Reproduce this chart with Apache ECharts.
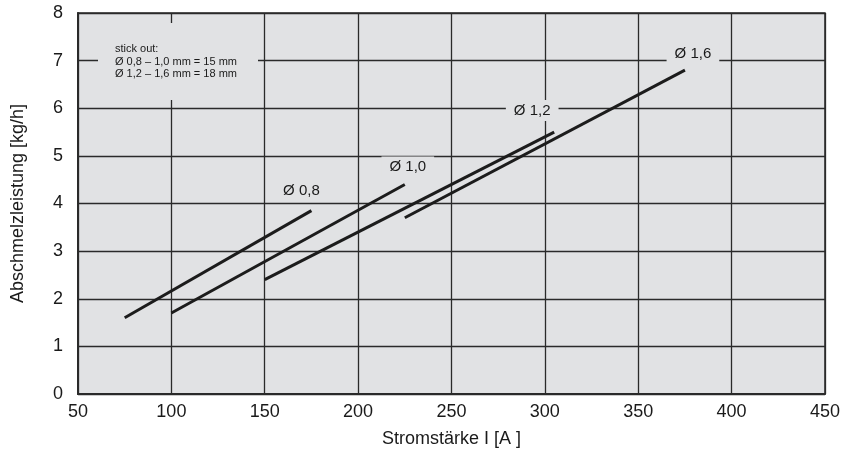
<!DOCTYPE html>
<html><head><meta charset="utf-8">
<script src="https://cdn.jsdelivr.net/npm/echarts@6/dist/echarts.min.js"></script>
<style>html,body{margin:0;padding:0;background:#fff}#c{width:843px;height:458px}</style>
</head><body><div id="c"></div>
<script>
// Data
const seriesNames = ['Ø 0,8', 'Ø 1,0', 'Ø 1,2', 'Ø 1,6'];
const d08 = [[75, 1.6], [175, 3.85]];
const d10 = [[100, 1.7], [225, 4.4]];
const d12 = [[150, 2.4], [305, 5.5]];
const d16 = [[225, 3.7], [375, 6.8]];
const xTicks = [50, 100, 150, 200, 250, 300, 350, 400, 450];
const yTicks = [0, 1, 2, 3, 4, 5, 6, 7, 8];
const noteLines = ['stick out:', 'Ø 0,8 – 1,0 mm = 15 mm', 'Ø 1,2 – 1,6 mm = 18 mm'];

const BG = '#e1e2e4';
const FONT = '"Liberation Sans Narrow", "Liberation Sans", sans-serif';
const labelOffsets = [[-10, -4], [3, -2], [-22, -6], [8, -1]];
const allData = [d08, d10, d12, d16];

const chart = echarts.init(document.getElementById('c'), null, {renderer: 'canvas'});
const series = allData.map((d, i) => ({
  type: 'line',
  name: seriesNames[i],
  symbol: 'circle',
  symbolSize: 0.01,
  showSymbol: true,
  silent: true,
  itemStyle: {color: '#1c1c1c'},
  lineStyle: {color: '#1c1c1c', width: 3},
  z: 5,
  data: d.map((p, j) => j === d.length - 1 ? {
    value: p,
    label: {
      show: true, position: 'top', formatter: seriesNames[i],
      offset: labelOffsets[i], color: '#1a1a1a', fontSize: 15, fontFamily: FONT,
      backgroundColor: BG, padding: [3, 8]
    }
  } : p)
}));

chart.setOption({
  animation: false,
  grid: {left: 78, right: 16, top: 13, bottom: 64, show: true, backgroundColor: BG, borderColor: '#2a2a2a', borderWidth: 1.5},
  xAxis: {
    type: 'value', min: xTicks[0], max: xTicks[xTicks.length - 1], interval: 50,
    axisLine: {show: true, lineStyle: {color: '#2a2a2a', width: 2}},
    axisTick: {show: false},
    splitLine: {show: true, lineStyle: {color: '#2a2a2a', width: 1.3}},
    axisLabel: {color: '#1a1a1a', fontSize: 18, fontFamily: FONT, margin: 9},
    name: 'Stromstärke I [A ]', nameLocation: 'middle', nameGap: 36,
    nameTextStyle: {color: '#1a1a1a', fontSize: 18, fontFamily: FONT}
  },
  yAxis: {
    type: 'value', min: yTicks[0], max: yTicks[yTicks.length - 1], interval: 1,
    axisLine: {show: true, lineStyle: {color: '#2a2a2a', width: 2}},
    axisTick: {show: false},
    splitLine: {show: true, lineStyle: {color: '#2a2a2a', width: 1.3}},
    axisLabel: {color: '#1a1a1a', fontSize: 18, fontFamily: FONT, margin: 15},
    name: 'Abschmelzleistung [kg/h]', nameLocation: 'middle', nameGap: 51,
    nameTextStyle: {color: '#1a1a1a', fontSize: 18, fontFamily: FONT}
  },
  graphic: [
    {type: 'rect', left: 98, top: 23, shape: {width: 160, height: 77}, style: {fill: BG}, z: 10},
    {type: 'text', left: 115, top: 43, z: 11,
     style: {text: noteLines.join('\n'), fill: '#1a1a1a', font: '11px ' + FONT, lineHeight: 12.5}}
  ],
  series: series
});
</script></body></html>
